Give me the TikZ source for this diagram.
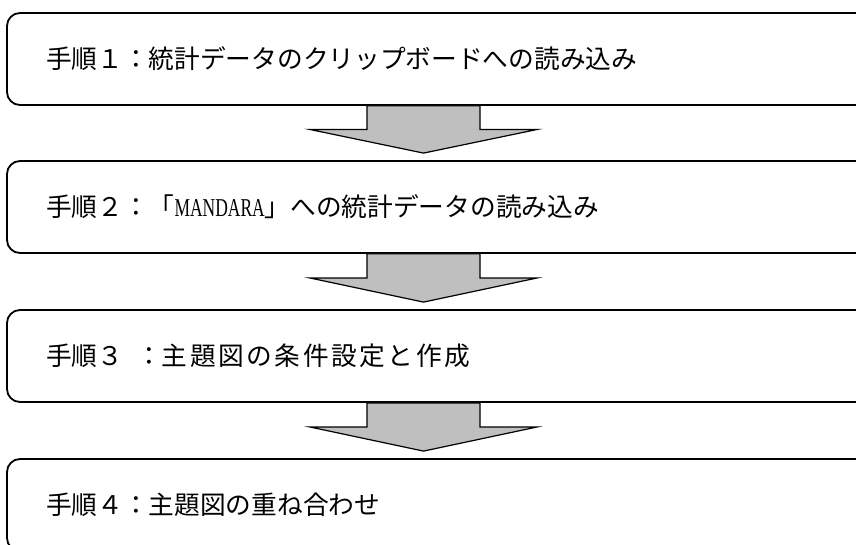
\documentclass[tikz,border=0pt]{standalone}
\usepackage{fontspec}
\usepackage{graphicx}
\usetikzlibrary{calc}
\newfontfamily\jp{Noto Sans CJK JP}
\newfontfamily\jpwide[LetterSpace=10]{Noto Sans CJK JP}
\newfontfamily\latinserif{Liberation Serif}
\newcommand\mandara{{\latinserif\fontsize{25.7pt}{26pt}\selectfont\scalebox{0.68}[1]{MANDARA}}}
\tikzset{
  stepbox/.style={draw=black, line width=1.8pt, rounded corners=13pt, fill=white,
    minimum width=865pt, minimum height=92pt, inner xsep=0pt, inner ysep=0pt,
    text width=839pt, align=left, font=\jp\fontsize{25.7pt}{30pt}\selectfont},
  blockarrow/.style={draw=black, line width=1.2pt, fill=black!25, line join=miter},
}
\newcommand\blockarr[2]{%
  \draw[blockarrow] let \p1=(#1.south -| ax), \p2=(#2.north -| ax),
    \n1={\y2+7pt}, \n2={(\y1+\y2+7pt)/2} in
    (\x1-56.5pt,\y1) -- (\x1-56.5pt,\n2) -- (\x1-113.5pt,\n2) -- (\x1,\n1)
    -- (\x1+113.5pt,\n2) -- (\x1+56.5pt,\n2) -- (\x1+56.5pt,\y1) -- cycle;}
\begin{document}
\begin{tikzpicture}[x=1pt,y=-1pt]
\useasboundingbox (0,0) rectangle (856,545);
\clip (0,0) rectangle (856,545);
\fill[white] (0,0) rectangle (856,545);
\coordinate (ax) at (423.5,0);
\node[stepbox] (b1) at (439.5,59) {\hspace*{26pt}手順１：統計データのクリップボードへの読み込み};
\node[stepbox] (b2) at (439.5,207) {\hspace*{26pt}手順２：「\mandara」への統計データの読み込み};
\node[stepbox] (b3) at (439.5,356) {\hspace*{26pt}手順３\hspace{13pt}：{\jpwide\fontsize{25.7pt}{30pt}\selectfont 主題図の条件設定と作成}};
\node[stepbox] (b4) at (439.5,505) {\hspace*{26pt}手順４：主題図の重ね合わせ};
\blockarr{b1}{b2}
\blockarr{b2}{b3}
\blockarr{b3}{b4}
\end{tikzpicture}
\end{document}
